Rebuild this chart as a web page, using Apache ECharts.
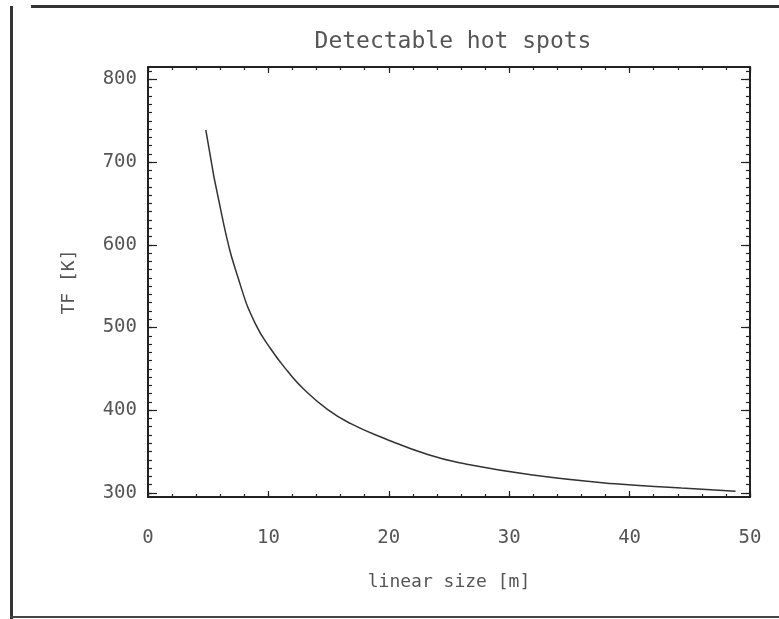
<!DOCTYPE html>
<html>
<head>
<meta charset="utf-8">
<script src="https://cdn.jsdelivr.net/npm/echarts@6/dist/echarts.min.js"></script>
<style>
html, body { margin: 0; padding: 0; background: #fff; }
#chart { width: 779px; height: 619px; }
</style>
</head>
<body>
<div id="chart"></div>
<script>
// curve
const sizeM = [4.8, 6.3, 7.7, 8.9, 10.2, 11.6, 12.9, 14.9, 16.8, 19.6, 23.3, 26.0, 31.8, 38.8, 44.3, 48.8];
const tempK = [739, 624, 550, 505, 474, 447, 426, 401, 384, 366, 346, 336, 322, 311, 306, 302];
// tick labels
const xTicks = [0, 10, 20, 30, 40, 50];
const yTicks = [300, 400, 500, 600, 700, 800];

const X_MIN = 0, X_MAX = 50;
const Y_MIN = 295, Y_MAX = 815;

// minor ticks: every 2 m on x, every 10 K on y
const xMinor = [];
for (let v = X_MIN; v <= X_MAX; v += 2) xMinor.push(v);
const yMinor = [];
for (let v = 300; v <= 810; v += 10) yMinor.push(v);

const font = 'DejaVu Sans Mono';
const ink = '#222';
const textGray = '#555';

const gridBox = { left: 148, right: 29, top: 67, bottom: 122 };

// one axis helper: position, ticks, tick length, with or without labels/line
function axis(kind, grid, position, ticks, len, withLine, labels) {
  const a = {
    gridIndex: grid,
    type: 'value',
    position: position,
    min: kind === 'x' ? X_MIN : Y_MIN,
    max: kind === 'x' ? X_MAX : Y_MAX,
    splitLine: { show: false },
    axisLine: { show: withLine, onZero: false, lineStyle: { color: ink, width: 2 } },
    axisTick: { show: true, inside: true, length: len, customValues: ticks, lineStyle: { color: ink, width: 1.2 } },
    axisLabel: { show: false }
  };
  if (labels) {
    a.axisLabel = {
      show: true,
      customValues: labels,
      color: textGray,
      fontFamily: font,
      fontSize: 19,
      margin: kind === 'x' ? 32 : 11
    };
  }
  return a;
}

const xAxes = [
  axis('x', 0, 'bottom', xTicks, 6, true, xTicks),
  axis('x', 0, 'top', xTicks, 6, true, null),
  axis('x', 1, 'bottom', xMinor, 3, false, null),
  axis('x', 1, 'top', xMinor, 3, false, null)
];
Object.assign(xAxes[0], {
  name: 'linear size [m]',
  nameLocation: 'middle',
  nameGap: 76,
  nameTextStyle: { color: textGray, fontFamily: font, fontSize: 18 }
});

const yAxes = [
  axis('y', 0, 'left', yTicks, 9, true, yTicks),
  axis('y', 0, 'right', yTicks, 9, true, null),
  axis('y', 1, 'left', yMinor, 4, false, null),
  axis('y', 1, 'right', yMinor, 4, false, null)
];
Object.assign(yAxes[0], {
  name: 'TF [K]',
  nameLocation: 'middle',
  nameGap: 70,
  nameRotate: 90,
  nameTextStyle: { color: textGray, fontFamily: font, fontSize: 18 }
});

const myChart = echarts.init(document.getElementById('chart'));
const option = {
  backgroundColor: '#fff',
  animation: false,
  title: {
    text: 'Detectable hot spots',
    left: 448,
    top: 26,
    textAlign: 'center',
    textStyle: { color: textGray, fontFamily: font, fontSize: 23, fontWeight: 'normal' }
  },
  grid: [
    Object.assign({}, gridBox),
    Object.assign({}, gridBox)
  ],
  xAxis: xAxes,
  yAxis: yAxes,
  series: [
    {
      type: 'line',
      xAxisIndex: 0,
      yAxisIndex: 0,
      data: sizeM.map((x, i) => [x, tempK[i]]),
      smooth: 0.5,
      showSymbol: false,
      lineStyle: { color: '#333', width: 1.5 }
    }
  ],
  // page frame of the scanned figure
  graphic: [
    { type: 'rect', shape: { x: 31, y: 5, width: 748, height: 3 }, style: { fill: '#333' } },
    { type: 'rect', shape: { x: 10, y: 6, width: 3, height: 613 }, style: { fill: '#333' } },
    { type: 'rect', shape: { x: 10, y: 616, width: 769, height: 2 }, style: { fill: '#444' } }
  ]
};
myChart.setOption(option);
window.addEventListener('resize', function() {
  myChart.resize();
});
</script>
</body>
</html>
